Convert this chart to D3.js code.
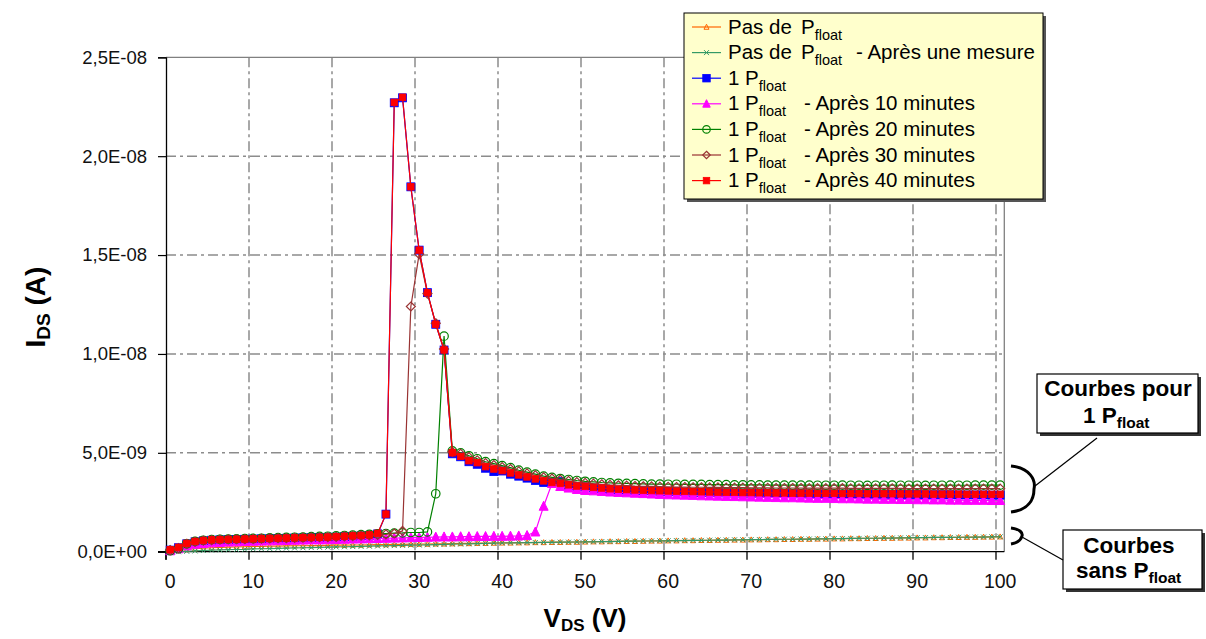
<!DOCTYPE html>
<html><head><meta charset="utf-8">
<script src="https://cdn.jsdelivr.net/npm/d3@7"></script>
<style>
html,body{margin:0;padding:0;background:#fff;}
svg{display:block;font-family:"Liberation Sans",Arial,sans-serif;}
</style></head>
<body><svg id="c" width="1206" height="639"></svg>
<script>
// ---------- DATA (I_DS in nA, V_DS categories in V) ----------
const vds = [0,1,2,3,4,5,6,7,8,9,10,11,12,13,14,15,16,17,18,19,20,21,22,23,24,25,26,27,28,29,30,31,32,33,34,35,36,37,38,39,40,41,42,43,44,45,46,47,48,49,50,51,52,53,54,55,56,57,58,59,60,61,62,63,64,65,66,67,68,69,70,71,72,73,74,75,76,77,78,79,80,81,82,83,84,85,86,87,88,89,90,91,92,93,94,95,96,97,98,99,100];
const xTickLabels = ["0","10","20","30","40","50","60","70","80","90","100"];
const yTickValues = [0,5,10,15,20,25];
const yTickLabels = ["0,0E+00","5,0E-09","1,0E-08","1,5E-08","2,0E-08","2,5E-08"];

const pasDePfloat = [0.02,0.06,0.11,0.15,0.18,0.20,0.22,0.23,0.24,0.25,
0.27,0.27,0.28,0.28,0.29,0.30,0.30,0.31,0.31,0.32,
0.33,0.33,0.34,0.34,0.35,0.36,0.36,0.37,0.37,0.38,
0.39,0.39,0.40,0.40,0.41,0.42,0.42,0.43,0.43,0.44,
0.45,0.45,0.46,0.46,0.47,0.47,0.48,0.48,0.49,0.49,
0.50,0.51,0.51,0.52,0.52,0.53,0.53,0.54,0.55,0.55,
0.56,0.56,0.57,0.57,0.58,0.58,0.59,0.59,0.60,0.60,
0.61,0.61,0.62,0.62,0.63,0.63,0.64,0.64,0.65,0.65,
0.66,0.66,0.67,0.67,0.68,0.68,0.69,0.69,0.70,0.70,
0.71,0.71,0.72,0.72,0.73,0.73,0.74,0.74,0.75,0.75,0.76];
const pasDePfloatApresMesure = [0.00,0.00,0.02,0.04,0.06,0.08,0.09,0.10,0.11,0.12,
0.14,0.15,0.16,0.17,0.18,0.19,0.20,0.21,0.22,0.23,
0.24,0.25,0.26,0.27,0.28,0.29,0.30,0.31,0.32,0.33,
0.34,0.35,0.36,0.37,0.38,0.39,0.40,0.41,0.42,0.43,
0.44,0.45,0.45,0.46,0.46,0.47,0.47,0.48,0.48,0.49,
0.50,0.50,0.51,0.51,0.52,0.53,0.53,0.54,0.54,0.55,
0.55,0.56,0.56,0.57,0.57,0.58,0.59,0.59,0.60,0.60,
0.61,0.61,0.62,0.62,0.63,0.63,0.64,0.64,0.65,0.65,
0.66,0.66,0.67,0.67,0.68,0.68,0.69,0.69,0.70,0.70,
0.71,0.71,0.72,0.72,0.72,0.73,0.73,0.74,0.74,0.75,0.75];
const unPfloat = [0.08,0.20,0.40,0.50,0.55,0.58,0.60,0.61,0.62,0.63,
0.64,0.65,0.66,0.67,0.68,0.69,0.70,0.71,0.72,0.73,
0.74,0.76,0.78,0.80,0.82,0.90,1.90,22.70,22.95,18.45,
15.25,13.10,11.50,10.20,4.95,4.80,4.55,4.42,4.22,4.05,
4.08,3.92,3.82,3.72,3.60,3.50,3.50,3.55,3.35,3.30,
3.28,3.22,3.18,3.15,3.12,3.12,3.10,3.08,3.08,3.05,
3.05,3.03,3.02,3.00,3.00,2.99,2.98,2.97,2.97,2.96,
2.96,2.95,2.95,2.94,2.94,2.93,2.93,2.92,2.92,2.92,
2.91,2.91,2.91,2.90,2.90,2.90,2.90,2.89,2.89,2.89,
2.89,2.88,2.88,2.88,2.88,2.87,2.87,2.87,2.87,2.86,2.86];
const apres10min = [0.05,0.15,0.30,0.38,0.42,0.45,0.47,0.49,0.50,0.52,
0.53,0.54,0.55,0.56,0.57,0.58,0.59,0.60,0.60,0.61,
0.62,0.63,0.64,0.65,0.66,0.67,0.68,0.69,0.70,0.71,
0.72,0.73,0.74,0.75,0.75,0.76,0.76,0.77,0.77,0.78,
0.78,0.79,0.80,0.82,1.00,2.30,3.45,3.30,3.22,3.15,
3.10,3.08,3.05,3.02,3.00,2.98,2.96,2.94,2.92,2.90,
2.88,2.87,2.86,2.85,2.83,2.82,2.81,2.80,2.79,2.78,
2.77,2.76,2.75,2.74,2.73,2.73,2.72,2.71,2.70,2.70,
2.69,2.68,2.68,2.67,2.66,2.66,2.65,2.65,2.64,2.64,
2.63,2.63,2.62,2.62,2.61,2.61,2.60,2.60,2.60,2.59,2.59];
const apres20min = [0.05,0.15,0.40,0.52,0.58,0.61,0.63,0.64,0.65,0.66,
0.67,0.68,0.70,0.71,0.72,0.73,0.74,0.76,0.77,0.78,
0.80,0.82,0.84,0.86,0.88,0.90,0.92,0.94,0.95,0.97,
0.97,1.00,2.93,10.90,5.10,5.00,4.85,4.70,4.55,4.45,
4.35,4.25,4.12,4.02,3.92,3.82,3.76,3.70,3.65,3.60,
3.56,3.53,3.50,3.48,3.46,3.45,3.44,3.43,3.42,3.42,
3.41,3.41,3.40,3.40,3.40,3.39,3.39,3.39,3.38,3.38,
3.38,3.38,3.37,3.37,3.37,3.37,3.37,3.37,3.36,3.36,
3.36,3.37,3.36,3.36,3.35,3.36,3.36,3.37,3.36,3.36,
3.36,3.35,3.36,3.36,3.37,3.36,3.36,3.37,3.37,3.37,3.37];
const apres30min = [0.08,0.18,0.40,0.50,0.56,0.59,0.61,0.62,0.63,0.64,
0.65,0.66,0.67,0.68,0.69,0.70,0.71,0.72,0.73,0.74,
0.75,0.77,0.79,0.81,0.83,0.85,0.88,0.92,1.05,12.40,
15.05,13.05,11.55,10.25,5.05,4.95,4.78,4.62,4.48,4.38,
4.28,4.18,4.06,3.96,3.86,3.76,3.70,3.64,3.58,3.52,
3.48,3.44,3.41,3.38,3.36,3.34,3.32,3.31,3.30,3.29,
3.28,3.27,3.27,3.26,3.26,3.25,3.25,3.24,3.24,3.24,
3.23,3.23,3.23,3.22,3.22,3.22,3.22,3.21,3.21,3.21,
3.21,3.21,3.20,3.20,3.20,3.20,3.20,3.20,3.20,3.19,
3.19,3.19,3.19,3.19,3.19,3.19,3.19,3.19,3.19,3.19,3.19];
const apres40min = [0.10,0.22,0.42,0.52,0.57,0.60,0.61,0.62,0.63,0.64,
0.65,0.66,0.67,0.68,0.69,0.70,0.71,0.72,0.73,0.74,
0.76,0.78,0.80,0.82,0.85,0.93,1.90,22.72,22.98,18.45,
15.25,13.10,11.50,10.20,5.00,4.82,4.60,4.50,4.30,4.18,
4.10,3.98,3.88,3.78,3.68,3.58,3.50,3.45,3.38,3.32,
3.30,3.25,3.22,3.18,3.16,3.14,3.12,3.10,3.09,3.08,
3.07,3.06,3.05,3.04,3.03,3.02,3.01,3.00,3.00,2.99,
2.99,2.98,2.98,2.97,2.97,2.96,2.96,2.96,2.95,2.95,
2.95,2.94,2.94,2.94,2.93,2.93,2.93,2.93,2.92,2.92,
2.92,2.92,2.91,2.91,2.91,2.91,2.90,2.90,2.90,2.90,2.90];

const seriesNames = ["Pas de ","Pas de ","1 ","1 ","1 ","1 ","1 "];
const seriesSuffix = ["", "- Après une mesure", "", "- Après 10 minutes", "- Après 20 minutes", "- Après 30 minutes", "- Après 40 minutes"];
const seriesValues = [pasDePfloat, pasDePfloatApresMesure, unPfloat, apres10min, apres20min, apres30min, apres40min];

// ---------- STYLE ----------
const styles = [
  {color:"#FF6600", marker:"tri",  size:5,   fill:"none"},
  {color:"#339966", marker:"x",    size:5,   fill:"none"},
  {color:"#0000FF", marker:"sq",   size:8,   fill:"#0000FF"},
  {color:"#FF00FF", marker:"tri",  size:9,   fill:"#FF00FF"},
  {color:"#008000", marker:"circ", size:8.5, fill:"none"},
  {color:"#993333", marker:"diam", size:9,   fill:"none"},
  {color:"#FF0000", marker:"sq",   size:6.5, fill:"#FF0000"}
];

const svg = d3.select("#c");
const L = 166, R = 1004.3, T = 57.3, B = 551.7;
const x = d3.scaleBand().domain(vds).range([L, R]).paddingInner(0).paddingOuter(0);
const y = d3.scaleLinear().domain([0, 25]).range([B, T]);
const cx = v => x(v) + x.bandwidth()/2;

// plot frame & grid
const grid = svg.append("g");
grid.selectAll("line.h").data(yTickValues.filter(v => v > 0 && v < 25)).join("line")
  .attr("x1", L).attr("x2", R).attr("y1", d => y(d)).attr("y2", d => y(d))
  .attr("stroke", "#8c8c8c").attr("stroke-width", 1.5).attr("stroke-dasharray", "10,4,3,4");
const xTickCats = xTickLabels.map(Number);
grid.selectAll("line.v").data(xTickCats.filter(v => v > 0)).join("line")
  .attr("x1", d => x(d)).attr("x2", d => x(d)).attr("y1", T).attr("y2", B)
  .attr("stroke", "#8c8c8c").attr("stroke-width", 1.5).attr("stroke-dasharray", "10,4,3,4");
grid.append("line").attr("x1", L).attr("x2", R).attr("y1", y(25)).attr("y2", y(25)).attr("stroke", "#808080").attr("stroke-width", 1.3);
grid.append("line").attr("x1", R).attr("x2", R).attr("y1", T).attr("y2", B).attr("stroke", "#808080").attr("stroke-width", 1.3);

// axes
const yAxis = d3.axisLeft(y).tickValues(yTickValues).tickFormat((d, i) => yTickLabels[i]).tickSizeOuter(0).tickSize(8).tickPadding(11);
const gy = svg.append("g").attr("transform", `translate(${L},0)`).call(yAxis);
gy.select(".domain").attr("stroke", "#000").attr("stroke-width", 1.3);
gy.selectAll(".tick line").attr("stroke", "#000").attr("stroke-width", 1.2);
gy.selectAll("text").attr("font-size", 18.5).attr("fill", "#111").attr("font-family", "Liberation Sans, Arial");
gy.append("line").attr("x1", 0).attr("x2", 0).attr("y1", B).attr("y2", B + 8).attr("stroke", "#000").attr("stroke-width", 1.3);

const gx = svg.append("g");
gx.append("line").attr("x1", L - 8).attr("x2", R).attr("y1", B).attr("y2", B).attr("stroke", "#000").attr("stroke-width", 1.3);
gx.selectAll("line.t").data(xTickCats).join("line")
  .attr("x1", d => x(d)).attr("x2", d => x(d)).attr("y1", B).attr("y2", B + 8)
  .attr("stroke", "#000").attr("stroke-width", 1.3);
gx.selectAll("text").data(xTickLabels).join("text")
  .attr("x", d => cx(+d)).attr("y", 588).attr("text-anchor", "middle")
  .attr("font-size", 19.5).attr("fill", "#111").text(d => d);

// axis titles
const xt = svg.append("text").attr("x", 585).attr("y", 627).attr("text-anchor", "middle")
  .attr("font-weight", "bold").attr("font-size", 26);
xt.append("tspan").text("V");
xt.append("tspan").attr("font-size", 17).attr("dy", 4).text("DS");
xt.append("tspan").attr("dy", -4).text(" (V)");

const yt = svg.append("text").attr("transform", "translate(45,307) rotate(-90)").attr("text-anchor", "middle")
  .attr("font-weight", "bold").attr("font-size", 28);
yt.append("tspan").text("I");
yt.append("tspan").attr("font-size", 19).attr("dy", 5).text("DS");
yt.append("tspan").attr("dy", -5).text(" (A)");

// marker drawer
function drawMarker(g, st, px, py) {
  const s = st.size;
  if (st.marker === "sq") {
    g.append("rect").attr("x", px - s/2).attr("y", py - s/2).attr("width", s).attr("height", s)
      .attr("fill", st.fill).attr("stroke", st.color).attr("stroke-width", 0.8);
  } else if (st.marker === "tri") {
    const h = s;
    g.append("path").attr("d", `M${px},${py - h*0.55}L${px + s/2},${py + h*0.45}L${px - s/2},${py + h*0.45}Z`)
      .attr("fill", st.fill).attr("stroke", st.color).attr("stroke-width", 1);
  } else if (st.marker === "circ") {
    g.append("circle").attr("cx", px).attr("cy", py).attr("r", s/2).attr("fill", st.fill).attr("stroke", st.color).attr("stroke-width", 1.2);
  } else if (st.marker === "diam") {
    g.append("path").attr("d", `M${px},${py - s/2}L${px + s/2},${py}L${px},${py + s/2}L${px - s/2},${py}Z`)
      .attr("fill", st.fill).attr("stroke", st.color).attr("stroke-width", 1.2);
  } else if (st.marker === "x") {
    g.append("path").attr("d", `M${px - s/2},${py - s/2}L${px + s/2},${py + s/2}M${px + s/2},${py - s/2}L${px - s/2},${py + s/2}`)
      .attr("stroke", st.color).attr("stroke-width", 1);
  }
}

// series
const line = d3.line().x(d => cx(d[0])).y(d => y(d[1]));
seriesValues.forEach((vals, k) => {
  const st = styles[k];
  const pts = vds.map((v, i) => [v, vals[i]]);
  const g = svg.append("g");
  g.append("path").attr("d", line(pts)).attr("fill", "none").attr("stroke", st.color).attr("stroke-width", 1.2);
  pts.forEach(p => drawMarker(g, st, cx(p[0]), y(p[1])));
});

// legend
const lg = svg.append("g");
lg.append("rect").attr("x", 687).attr("y", 16).attr("width", 359).attr("height", 186).attr("fill", "#555");
lg.append("rect").attr("x", 684).attr("y", 13).attr("width", 359).attr("height", 186).attr("fill", "#FFFFCC").attr("stroke", "#000").attr("stroke-width", 1);
seriesValues.forEach((vals, k) => {
  const st = styles[k];
  const yy = 27 + k * 25.6;
  lg.append("line").attr("x1", 692).attr("x2", 721).attr("y1", yy).attr("y2", yy).attr("stroke", st.color).attr("stroke-width", 1.2);
  drawMarker(lg, Object.assign({}, st, {size: Math.min(st.size, 7.5)}), 706.5, yy);
  const t = lg.append("text").attr("y", yy + 6.5).attr("font-size", 20.5).attr("fill", "#000");
  t.append("tspan").attr("x", 728).text(seriesNames[k]);
  const px = k < 2 ? 801 : 745;
  t.append("tspan").attr("x", px).text("P");
  t.append("tspan").attr("font-size", 14.5).attr("dy", 6).text("float");
  if (seriesSuffix[k]) t.append("tspan").attr("x", k < 2 ? 856 : 804).attr("dy", -6).text(seriesSuffix[k]);
});

// callouts
const co = svg.append("g");
function box(x0, y0, w, h) {
  co.append("rect").attr("x", x0 + 3).attr("y", y0 + 3).attr("width", w).attr("height", h).attr("fill", "#333");
  co.append("rect").attr("x", x0).attr("y", y0).attr("width", w).attr("height", h).attr("fill", "#fff").attr("stroke", "#000").attr("stroke-width", 1.2);
}
box(1037, 374, 161, 59);
box(1063, 530, 139, 59);
co.append("text").attr("x", 1118).attr("y", 396).attr("text-anchor", "middle").attr("font-weight", "bold").attr("font-size", 22.5).text("Courbes pour");
const t2 = co.append("text").attr("x", 1083).attr("y", 423).attr("font-weight", "bold").attr("font-size", 22.5);
t2.append("tspan").text("1 P");
t2.append("tspan").attr("font-size", 15.5).attr("dy", 5).text("float");
co.append("text").attr("x", 1129).attr("y", 553).attr("text-anchor", "middle").attr("font-weight", "bold").attr("font-size", 22.5).text("Courbes");
const t4 = co.append("text").attr("x", 1076).attr("y", 578).attr("font-weight", "bold").attr("font-size", 22.5);
t4.append("tspan").text("sans P");
t4.append("tspan").attr("font-size", 15.5).attr("dy", 5).text("float");

// brackets & leader lines
co.append("path").attr("d", "M1011,466 C1030,468 1036,480 1034,489 C1034,500 1028,510 1011,512")
  .attr("fill", "none").attr("stroke", "#000").attr("stroke-width", 3);
co.append("line").attr("x1", 1035).attr("y1", 486).attr("x2", 1097).attr("y2", 438).attr("stroke", "#000").attr("stroke-width", 1.2);
co.append("path").attr("d", "M1011,528 C1020,529 1023,533 1022,536 C1021,540 1017,543 1011,544")
  .attr("fill", "none").attr("stroke", "#000").attr("stroke-width", 3);
co.append("line").attr("x1", 1022).attr("y1", 537).attr("x2", 1063).attr("y2", 560).attr("stroke", "#000").attr("stroke-width", 1.2);
</script></body></html>
